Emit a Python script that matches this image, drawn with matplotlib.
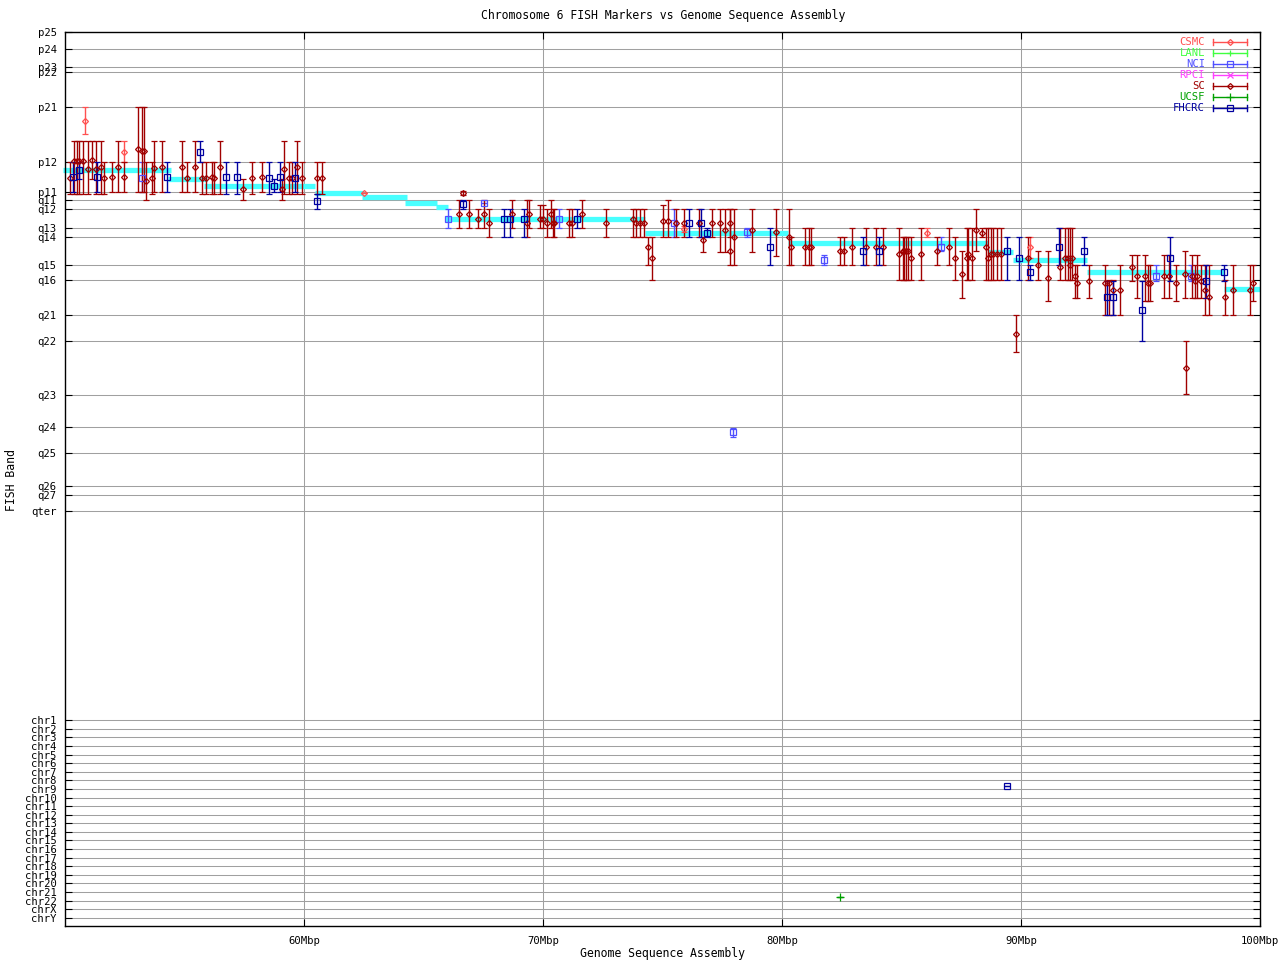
import numpy as np
import matplotlib
matplotlib.use("Agg")
import matplotlib.pyplot as plt

# ---------------- axis scale (band positions on the cytogenetic axis) ----------------
band_labels = ["p25", "p24", "p23", "p22", "p21", "p12", "p11", "q11", "q12", "q13", "q14",
               "q15", "q16", "q21", "q22", "q23", "q24", "q25", "q26", "q27", "qter"]
band_pos = [32, 49.3, 67.3, 72, 107.3, 162.3, 192, 200, 209, 228.3, 237,
            265, 280.3, 315.3, 341.3, 394.7, 427.3, 453, 485.7, 495, 510.7]
chr_labels = ["chr%d" % i for i in range(1, 23)] + ["chrX", "chrY"]
chr_first, chr_last = 720.3, 917.7
axis_top, axis_bottom = 32, 926

xticks_mbp = [60, 70, 80, 90, 100]
xtick_labels = ["60Mbp", "70Mbp", "80Mbp", "90Mbp", "100Mbp"]

# ---------------- genome assembly (cyan) segments ----------------
seg_start = [49.9, 54.31, 55.82, 60.46, 62.43, 64.23, 65.52, 65.90, 74.27, 80.25, 88.62, 89.67, 92.76, 98.49]
seg_end   = [54.42, 55.93, 60.46, 62.47, 64.30, 65.56, 66.01, 74.27, 80.25, 88.62, 89.67, 92.76, 98.49, 100.0]
seg_band  = [170, 179, 185.7, 193, 196.7, 203, 207, 219, 232.7, 243.3, 252.3, 259.7, 271.7, 289]

# ---------------- FISH markers: (Mbp, band, band low, band high) ----------------
sc_x = [50.19, 50.39, 50.49, 50.57, 50.77, 50.97, 51.14, 51.28, 51.49, 51.64, 51.98, 52.23, 52.48,
        53.07, 53.21, 53.32, 53.39, 53.65, 53.74, 54.05, 54.91, 55.09, 55.45, 55.72, 55.89, 56.14,
        56.25, 56.50, 57.46, 57.84, 58.26, 59.07, 59.18, 59.37, 59.50, 59.72, 59.93, 60.56, 60.74,
        66.50, 66.67, 66.92, 67.29, 67.54, 67.75, 68.72, 69.34, 69.43, 69.87, 69.99, 70.18, 70.32,
        70.43, 70.47, 71.10, 71.20, 71.62, 72.62, 73.78, 73.89, 74.06, 74.23, 74.38, 74.57, 75.03,
        75.22, 75.56, 75.90, 76.54, 76.71, 77.06, 77.41, 77.63, 77.82, 77.82, 78.00, 78.73, 79.75,
        80.28, 80.38, 80.95, 81.13, 81.20, 82.43, 82.61, 82.94, 83.50, 83.93, 84.24, 84.91, 85.06,
        85.12, 85.19, 85.28, 85.38, 85.80, 86.47, 87.00, 87.25, 87.52, 87.73, 87.80, 87.96, 88.13,
        88.36, 88.52, 88.63, 88.73, 88.82, 88.98, 89.16, 89.78, 90.28, 90.72, 91.12, 91.63, 91.84,
        91.97, 92.05, 92.12, 92.26, 92.36, 92.86, 93.53, 93.70, 93.84, 94.16, 94.66, 94.87, 95.20,
        95.30, 95.40, 95.98, 96.21, 96.47, 96.87, 96.92, 97.17, 97.28, 97.38, 97.53, 97.71, 97.85,
        98.55, 98.88, 99.58, 99.72]
sc_y = [178, 161, 161, 161, 161, 169, 160, 169, 167, 178, 177, 167, 177,
        149, 151, 151, 181, 178, 168, 167, 167, 178, 167, 178, 178, 177,
        178, 167, 189, 178, 177, 189, 169, 178, 178, 167, 178, 178, 178,
        214, 193, 214, 219, 214, 223, 214, 223, 214, 219, 219, 223, 214,
        223, 223, 223, 223, 214, 223, 219, 223, 223, 223, 247, 258, 221,
        221, 223, 223, 223, 240, 223, 223, 230, 251, 223, 237, 230, 232,
        237, 247, 247, 247, 247, 251, 251, 247, 247, 247, 247, 254, 251,
        251, 251, 251, 258, 254, 251, 247, 258, 274, 258, 254, 258, 230,
        233, 247, 258, 254, 254, 254, 254, 334, 258, 265, 278, 267, 258,
        258, 265, 258, 276, 283, 281, 283, 283, 290, 290, 267, 276, 276,
        283, 283, 276, 276, 283, 274, 368, 276, 281, 276, 281, 290, 297,
        297, 290, 290, 283]
sc_lo = [162, 141, 141, 141, 141, 141, 141, 141, 141, 162, 162, 141, 162,
         107, 107, 107, 162, 162, 141, 141, 141, 162, 141, 162, 162, 162,
         162, 141, 179, 162, 162, 179, 141, 162, 162, 141, 162, 162, 162,
         200, 191, 200, 209, 200, 209, 200, 200, 200, 205, 205, 209, 200,
         209, 209, 209, 209, 200, 209, 209, 209, 209, 209, 237, 237, 205,
         200, 209, 209, 209, 237, 209, 209, 209, 209, 209, 209, 209, 209,
         209, 237, 228, 228, 228, 237, 237, 228, 228, 228, 228, 228, 237,
         237, 237, 237, 237, 228, 237, 228, 237, 251, 228, 228, 228, 209,
         228, 228, 228, 228, 228, 228, 228, 315, 237, 251, 251, 228, 228,
         228, 228, 228, 265, 265, 265, 265, 280, 280, 265, 255, 255, 255,
         265, 265, 255, 255, 265, 251, 341, 255, 265, 255, 265, 265, 265,
         280, 265, 265, 265]
sc_hi = [194, 194, 194, 194, 194, 194, 179, 194, 194, 194, 192, 192, 192,
         192, 192, 192, 200, 194, 192, 192, 192, 192, 192, 194, 194, 194,
         194, 194, 200, 194, 192, 200, 194, 194, 194, 194, 194, 194, 194,
         228, 195, 228, 228, 228, 237, 228, 237, 228, 228, 228, 237, 228,
         237, 237, 237, 237, 228, 237, 237, 237, 237, 237, 265, 280, 237,
         237, 237, 237, 237, 252, 237, 252, 252, 265, 237, 265, 252, 256,
         265, 265, 265, 265, 265, 265, 265, 265, 265, 265, 265, 280, 280,
         280, 280, 280, 280, 280, 265, 265, 280, 298, 280, 280, 280, 251,
         237, 280, 280, 280, 280, 280, 280, 352, 280, 280, 301, 280, 280,
         280, 280, 280, 298, 298, 298, 315, 315, 315, 315, 281, 298, 301,
         301, 301, 298, 298, 301, 298, 394, 298, 298, 298, 298, 315, 315,
         315, 315, 315, 301]

fhcrc_x = [50.32, 50.60, 51.35, 54.28, 55.66, 56.74, 57.18, 58.55, 58.76, 59.01, 59.64, 60.56,
           66.67, 68.38, 68.62, 69.22, 71.41, 76.12, 76.61, 76.87, 79.50, 83.40, 84.07, 89.40,
           89.93, 90.39, 91.60, 92.65, 93.61, 93.84, 95.08, 96.25, 97.75, 98.51, 89.41]
fhcrc_y = [177, 170, 177, 177, 152, 177, 177, 178, 186, 177, 178, 201,
           204, 219, 219, 219, 219, 223, 223, 233, 247, 251, 251, 251,
           258, 272, 247, 251, 297, 297, 310, 258, 281, 272, 786]
fhcrc_lo = [162, 162, 162, 162, 141, 162, 162, 162, 179, 162, 162, 194,
            200, 209, 209, 209, 209, 209, 209, 228, 228, 237, 237, 237,
            237, 265, 228, 237, 281, 281, 281, 237, 265, 265, 786]
fhcrc_hi = [192, 179, 192, 192, 162, 194, 194, 194, 192, 192, 192, 209,
            209, 237, 237, 237, 228, 237, 237, 237, 265, 265, 265, 280,
            280, 280, 265, 265, 315, 315, 341, 281, 298, 281, 786]

nci_x = [53.21, 66.01, 67.54, 70.68, 75.48, 77.95, 78.55, 81.77, 86.64, 95.64, 97.10]
nci_y = [178, 219, 203, 219, 223, 432, 232, 260, 247, 276, 276]
nci_lo = [162, 209, 203, 209, 209, 428, 228, 255, 237, 265, 265]
nci_hi = [192, 228, 203, 228, 237, 437, 237, 265, 251, 281, 281]

csmc_x = [50.85, 52.48, 62.52, 75.90, 86.08, 90.38]
csmc_y = [121, 152, 193, 229, 233, 247]
csmc_lo = [107, 141, 193, 226, 228, 237]
csmc_hi = [134, 162, 193, 232, 237, 258]

ucsf_x = [82.43]
ucsf_y = [897]
ucsf_lo = [897]
ucsf_hi = [897]

# ---------------- styles ----------------
sources = ["CSMC", "LANL", "NCI", "RPCI", "SC", "UCSF", "FHCRC"]
colors = {"CSMC": "#ff5050", "LANL": "#40ff40", "NCI": "#5050ff", "RPCI": "#ff40ff",
          "SC": "#a00000", "UCSF": "#00a000", "FHCRC": "#0000a0"}
markers = {"CSMC": "D", "LANL": "+", "NCI": "s", "RPCI": "x", "SC": "D", "UCSF": "+", "FHCRC": "s"}
msizes = {"CSMC": 3.0, "LANL": 5, "NCI": 4.0, "RPCI": 4, "SC": 3.0, "UCSF": 5.5, "FHCRC": 4.0}

W, H = 1280, 960
fig = plt.figure(figsize=(W / 100, H / 100), dpi=100)
ax = fig.add_axes([65 / W, 1 - axis_bottom / H, (1260 - 65) / W, (axis_bottom - axis_top) / H])

font = "DejaVu Sans Mono"
fs = 7.6      # tick labels and legend
fs_lab = 8.3  # title and axis labels

ax.set_xlim(50, 100)
ax.set_ylim(axis_bottom, axis_top)

chr_pos = list(np.linspace(chr_first, chr_last, len(chr_labels)))
ytick_pos = band_pos + chr_pos
ytick_lab = band_labels + chr_labels

grid_col = "#a0a0a0"
for yp in ytick_pos[1:]:
    ax.axhline(yp, color=grid_col, lw=0.75, zorder=0)
for xp in xticks_mbp[:-1]:
    ax.axvline(xp, color=grid_col, lw=0.75, zorder=0)

ax.set_yticks(ytick_pos)
ax.set_yticklabels(ytick_lab, fontfamily=font, fontsize=fs)
ax.set_xticks(xticks_mbp)
ax.set_xticklabels(xtick_labels, fontfamily=font, fontsize=fs)
ax.tick_params(axis="y", direction="in", length=5, width=0.8, pad=6, left=True, right=True)
ax.tick_params(axis="x", direction="in", length=5, width=0.8, pad=7, top=True, bottom=True)
for s in ax.spines.values():
    s.set_linewidth(1.0)
    s.set_color("black")

# cyan assembly line
ax.hlines(seg_band, seg_start, seg_end, colors="#48ffff", lw=3.8, zorder=1, clip_on=False)

def draw(name, x, y, lo, hi):
    x = np.asarray(x, float)
    y = np.asarray(y, float)
    lo = np.asarray(lo, float)
    hi = np.asarray(hi, float)
    c = colors[name]
    ax.errorbar(x, y, yerr=[y - lo, hi - y], fmt=markers[name], ms=msizes[name], mfc="none",
                mec=c, mew=0.9, ecolor=c, elinewidth=1.0, capsize=2.3, capthick=1.0,
                ls="none", zorder=3)

draw("CSMC", csmc_x, csmc_y, csmc_lo, csmc_hi)
draw("NCI", nci_x, nci_y, nci_lo, nci_hi)
draw("SC", sc_x, sc_y, sc_lo, sc_hi)
draw("UCSF", ucsf_x, ucsf_y, ucsf_lo, ucsf_hi)
draw("FHCRC", fhcrc_x, fhcrc_y, fhcrc_lo, fhcrc_hi)

# legend (gnuplot style: text left of sample)
tf = fig.transFigure
for i, name in enumerate(sources):
    yy = 1 - (42.3 + 11 * i) / H
    c = colors[name]
    fig.text(1205 / W, yy, name, ha="right", va="center", color=c, fontfamily=font, fontsize=fs)
    x0, x1 = 1213 / W, 1247 / W
    ax.plot([x0, x1], [yy, yy], color=c, lw=1.0, transform=tf, clip_on=False)
    for xe in (x0, x1):
        ax.plot([xe, xe], [yy - 3 / H, yy + 3 / H], color=c, lw=1.0, transform=tf, clip_on=False)
    ax.plot([(x0 + x1) / 2], [yy], marker=markers[name], ms=msizes[name], mfc="none", mec=c,
            mew=0.9, transform=tf, clip_on=False)

fig.text(663 / W, 1 - 15 / H, "Chromosome 6 FISH Markers vs Genome Sequence Assembly",
         ha="center", va="center", fontfamily=font, fontsize=fs_lab)
fig.text(662 / W, 1 - 953 / H, "Genome Sequence Assembly", ha="center", va="center",
         fontfamily=font, fontsize=fs_lab)
fig.text(12 / W, 1 - 480 / H, "FISH Band", ha="center", va="center", rotation=90,
         fontfamily=font, fontsize=fs_lab)

fig.savefig("out.png", dpi=100)
